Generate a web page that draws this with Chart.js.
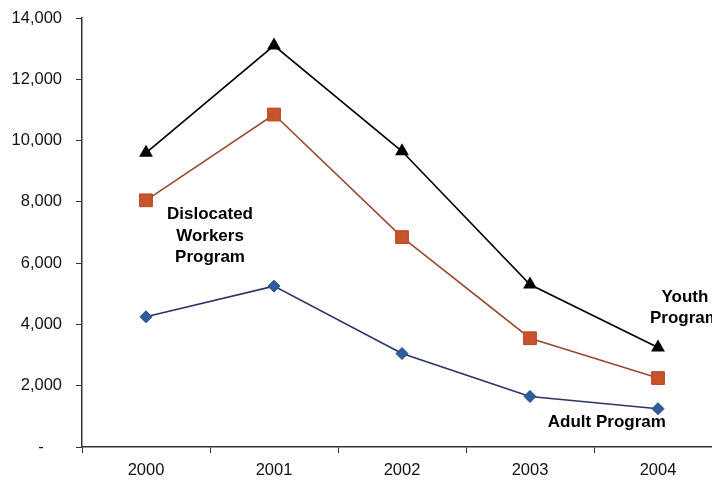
<!DOCTYPE html>
<html>
<head>
<meta charset="utf-8">
<script src="https://cdn.jsdelivr.net/npm/chart.js@4/dist/chart.umd.min.js"></script>
<style>
  html, body { margin: 0; padding: 0; background: #fff; overflow: hidden; }
  #wrap { width: 732px; height: 480px; }
</style>
</head>
<body>
<div id="wrap"><canvas id="myChart" width="732" height="480"></canvas></div>
<script>
// participants per program year
const years = ['2000', '2001', '2002', '2003', '2004'];
const youth = [9600, 13100, 9650, 5300, 3250];
const dislocated = [8050, 10850, 6850, 3550, 2250];
const adult = [4250, 5250, 3050, 1650, 1250];

const yTicks = [0, 2000, 4000, 6000, 8000, 10000, 12000, 14000];

// series names written next to the lines (x = category index, y = value)
const seriesLabels = [
    { lines: ['Dislocated', 'Workers', 'Program'], x: 0.5, y: 7580 },
    { lines: ['Youth', 'Program'], x: 4.21, y: 4900 },
    { lines: ['Adult Program'], x: 3.6, y: 820 }
];

const labelPlugin = {
    id: 'seriesLabels',
    afterDatasetsDraw(chart) {
        const ctx = chart.ctx;
        const xs = chart.scales.x, ys = chart.scales.y;
        ctx.save();
        ctx.font = 'bold 17px "Liberation Sans", Arial, sans-serif';
        ctx.fillStyle = '#000';
        ctx.textAlign = 'center';
        ctx.textBaseline = 'middle';
        seriesLabels.forEach((lbl) => {
            const px = xs.getPixelForValue(lbl.x);
            const py = ys.getPixelForValue(lbl.y);
            lbl.lines.forEach((t, i) => ctx.fillText(t, px, py + i * 21.5));
        });
        ctx.restore();
    }
};

const tickFont = { family: '"Liberation Sans", Arial, sans-serif', size: 16.5 };

const config = {
    type: 'line',
    data: {
        labels: years,
        datasets: [{
            label: 'Youth Program',
            data: youth,
            borderColor: '#000',
            backgroundColor: '#000',
            borderWidth: 1.6,
            pointStyle: 'triangle',
            pointRadius: 8,
            pointBorderWidth: 0
        }, {
            label: 'Dislocated Workers Program',
            data: dislocated,
            borderColor: '#9a4a30',
            backgroundColor: '#c9532b',
            pointBorderColor: '#b0442a',
            borderWidth: 1.6,
            pointStyle: 'rect',
            pointRadius: 9,
            pointBorderWidth: 1
        }, {
            label: 'Adult Program',
            data: adult,
            borderColor: '#2b3468',
            backgroundColor: '#2f5c9c',
            pointBorderColor: '#244a85',
            borderWidth: 1.6,
            pointStyle: 'rectRot',
            pointRadius: 6,
            pointBorderWidth: 1
        }]
    },
    options: {
        responsive: false,
        animation: false,
        layout: { padding: { top: 18, right: 4, left: 0, bottom: 0 } },
        plugins: {
            legend: { display: false },
            tooltip: { enabled: false }
        },
        elements: { line: { tension: 0 } },
        scales: {
            x: {
                offset: true,
                grid: { display: true, drawOnChartArea: false, drawTicks: true, tickLength: 6, offset: true, color: '#333' },
                border: { display: true, color: '#333', width: 1.5 },
                ticks: { font: tickFont, color: '#111', padding: 8, maxRotation: 0 },
                afterFit: (scale) => { scale.height = 33; }
            },
            y: {
                min: 0,
                max: 14000,
                afterBuildTicks: (scale) => { scale.ticks = yTicks.map((v) => ({ value: v })); },
                grid: { display: true, drawOnChartArea: false, drawTicks: true, tickLength: 6, color: '#333' },
                border: { display: true, color: '#333', width: 1.5 },
                ticks: {
                    font: tickFont,
                    color: '#111',
                    padding: 14,
                    callback: (v) => v === 0 ? '-\u2007\u2007' : v.toLocaleString('en-US')
                },
                afterFit: (scale) => {
                    scale.width = 82;
                    // let the layout padding alone decide where the plot starts
                    scale.paddingTop = 0;
                    scale.paddingBottom = 0;
                }
            }
        }
    },
    plugins: [labelPlugin]
};

const myChart = new Chart(document.getElementById('myChart'), config);
</script>
</body>
</html>
